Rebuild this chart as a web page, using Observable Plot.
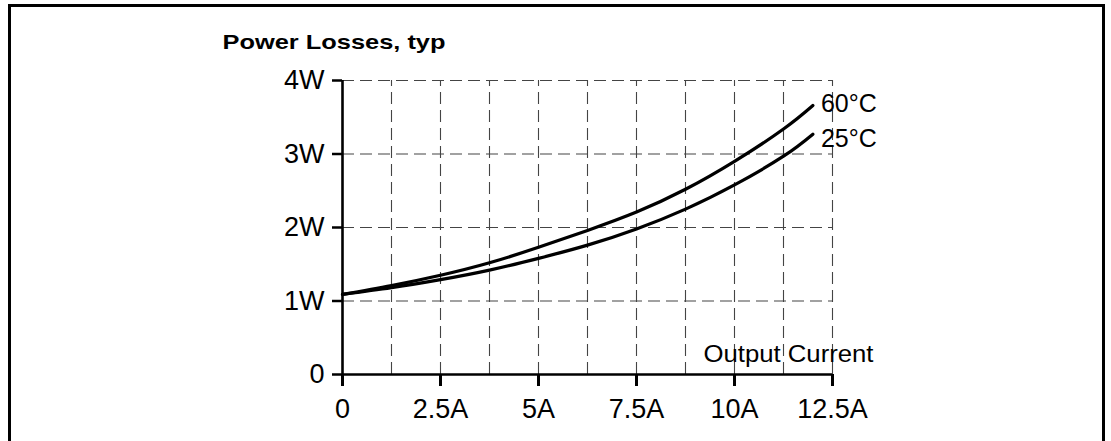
<!DOCTYPE html>
<html>
<head>
<meta charset="utf-8">
<script src="https://cdn.jsdelivr.net/npm/d3@7"></script>
<script src="https://cdn.jsdelivr.net/npm/@observablehq/plot@0.6"></script>
<style>
  html, body { margin: 0; padding: 0; background: #fff; overflow: hidden; }
  #wrap { position: relative; width: 1111px; height: 441px; }
  #frame { position: absolute; left: 8px; top: 4px; width: 1091px; height: 460px; border: 3px solid #000; pointer-events: none; }
  svg { font-family: "Liberation Sans", Arial, sans-serif; }
</style>
</head>
<body>
<div id="wrap"><div id="chart"></div><div id="frame"></div></div>
<script>
// Data
const current = [0, 1.25, 2.5, 3.75, 5, 6.25, 7.5, 8.75, 10, 11.25, 12];
const loss60 = [1.09, 1.21, 1.35, 1.52, 1.73, 1.96, 2.21, 2.52, 2.90, 3.34, 3.66];
const loss25 = [1.09, 1.18, 1.29, 1.42, 1.58, 1.76, 1.98, 2.25, 2.58, 2.97, 3.27];
const seriesNames = ["60°C", "25°C"];
const xTicks = [0, 2.5, 5, 7.5, 10, 12.5];
const yTicks = [0, 1, 2, 3, 4];
const xGrid = [1.25, 2.5, 3.75, 5, 6.25, 7.5, 8.75, 10, 11.25, 12.5];
const yGrid = [1, 2, 3, 4];
const title = "Power Losses, typ";
const xLabel = "Output Current";

const rows60 = current.map((c, i) => ({x: c, y: loss60[i], s: seriesNames[0]}));
const rows25 = current.map((c, i) => ({x: c, y: loss25[i], s: seriesNames[1]}));
const ends = [rows60[rows60.length - 1], rows25[rows25.length - 1]];

const gridStyle = {stroke: "#444", strokeWidth: 1.1, strokeDasharray: "12,6"};

const chart = Plot.plot({
  width: 1111,
  height: 441,
  marginLeft: 342,
  marginRight: 279,
  marginTop: 80,
  marginBottom: 67,
  style: {fontFamily: "'Liberation Sans', Arial, sans-serif", background: "#fff", color: "#000"},
  x: {domain: [0, 12.5]},
  y: {domain: [0, 4]},
  marks: [
    Plot.ruleX(xGrid, {y1: 0, y2: 4, ...gridStyle}),
    Plot.ruleY(yGrid, {x1: 0, x2: 12.5, ...gridStyle}),
    Plot.axisX(xTicks, {tickSize: 12, tickPadding: 12, strokeWidth: 3, fontSize: 27, tickFormat: d => d === 0 ? "0" : d + "A", label: null}),
    Plot.axisY(yTicks, {tickSize: 10, tickPadding: 8, strokeWidth: 2.5, fontSize: 27, tickFormat: d => d === 0 ? "0" : d + "W", label: null}),
    Plot.ruleX([0], {y1: 0, y2: 4, stroke: "#000", strokeWidth: 2.6}),
    Plot.ruleY([0], {x1: 0, x2: 12.5, stroke: "#000", strokeWidth: 2.6}),
    Plot.line(rows60, {x: "x", y: "y", curve: "natural", stroke: "#000", strokeWidth: 3.2}),
    Plot.line(rows25, {x: "x", y: "y", curve: "natural", stroke: "#000", strokeWidth: 3.2}),
    Plot.text([ends[0]], {x: "x", y: "y", text: "s", textAnchor: "start", dx: 8, dy: -1, fontSize: 25, fill: "#000"}),
    Plot.text([ends[1]], {x: "x", y: "y", text: "s", textAnchor: "start", dx: 8, dy: 5, fontSize: 25, fill: "#000"}),
    Plot.text([xLabel], {frameAnchor: "bottom-right", textAnchor: "end", lineAnchor: "bottom", dx: 41, dy: -13, fontSize: 23, fill: "#000", className: "xlab"}),
    Plot.text([title], {frameAnchor: "top-left", textAnchor: "start", lineAnchor: "bottom", dx: -120, dy: -32, fontSize: 21, fontWeight: "bold", fill: "#000", className: "ttl"})
  ]
});
document.getElementById("chart").appendChild(chart);

// Horizontal stretch of the labels to match the reference's wide glyphs
function stretch(sel, target) {
  chart.querySelectorAll(sel).forEach(t => {
    t.setAttribute("textLength", target);
    t.setAttribute("lengthAdjust", "spacingAndGlyphs");
  });
}
stretch(".ttl text", 223);
stretch(".xlab text", 170);
</script>
</body>
</html>
